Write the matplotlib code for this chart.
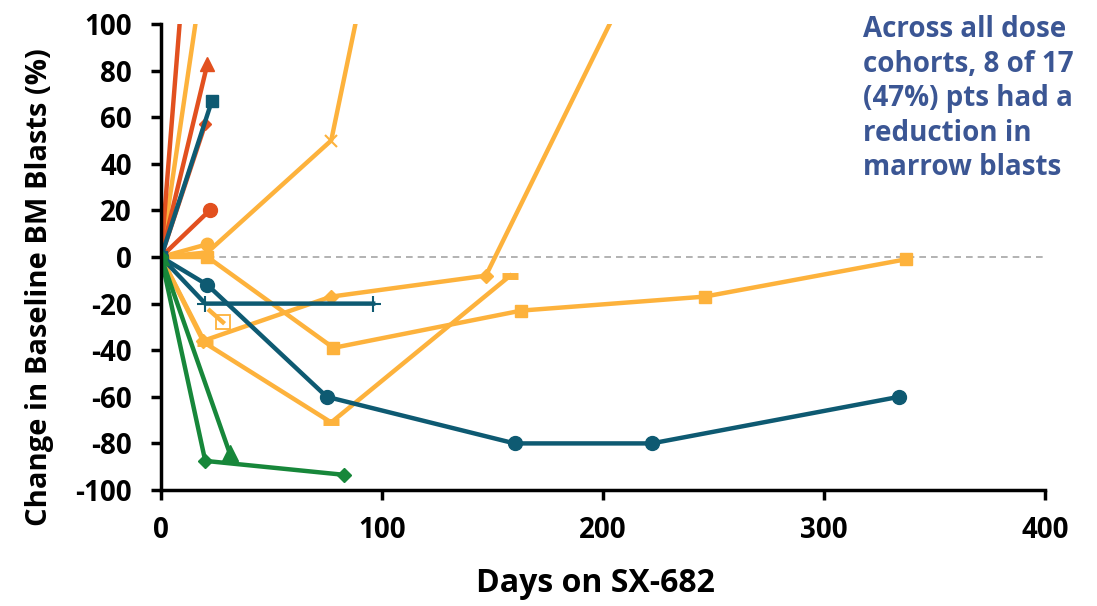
import matplotlib.pyplot as plt
import numpy as np

plt.rcParams['font.family'] = ['Open Sans', 'DejaVu Sans']
plt.rcParams['font.weight'] = 'bold'
plt.rcParams['axes.unicode_minus'] = False

# ── Colours ───────────────────────────────────────────────────────────────────
RED = '#E2501F'
YEL = '#FDB23C'
TEAL = '#0E5A72'
GREEN = '#17873A'

# ── Data (days on SX-682, % change in BM blasts) ──────────────────────────────
red_line_days = [0, 21]
red_line_vals = [0, 250]
red_tri_days = [0, 21]
red_tri_vals = [0, 83]
red_dia_days = [0, 20]
red_dia_vals = [0, 57]
red_circ_days = [0, 22]
red_circ_vals = [0, 20]

yel_line_days = [0, 21]
yel_line_vals = [0, 135]
yel_circ_days = [0, 21]
yel_circ_vals = [0, 5.5]
yel_x_days = [0, 21, 77, 100]
yel_x_vals = [0, 2, 50, 155]
yel_sq_days = [0, 21, 78, 163, 246, 337]
yel_sq_vals = [0, 0, -39, -23, -17, -1]
yel_dia_days = [0, 19, 77, 147, 230]
yel_dia_vals = [0, -36, -17, -8, 152]
yel_dash_days = [0, 20, 77, 158]
yel_dash_vals = [0, -37, -71, -8]
yel_osq_days = [22, 28]
yel_osq_vals = [-23, -28]

teal_sq_days = [0, 23]
teal_sq_vals = [0, 67]
teal_circ_days = [0, 21, 75, 160, 222, 334]
teal_circ_vals = [0, -12, -60, -80, -80, -60]
teal_plus_days = [0, 20, 96]
teal_plus_vals = [0, -20, -20]

green_dia_days = [0, 20, 83]
green_dia_vals = [0, -87.5, -93.5]
green_tri_days = [0, 31]
green_tri_vals = [0, -84]

note = 'Across all dose\ncohorts, 8 of 17\n(47%) pts had a\nreduction in\nmarrow blasts'

# ── Plot ──────────────────────────────────────────────────────────────────────
fig = plt.figure(figsize=(10.97, 6.06), dpi=100)
ax = fig.add_axes([0.1468, 0.1914, 0.8058, 0.769])

ax.axhline(0, color='#A6A6A6', lw=1.2, ls=(0, (4, 3)), zorder=1)

LW = 3.2
ax.plot(yel_line_days, yel_line_vals, color=YEL, lw=LW)
ax.plot(yel_x_days, yel_x_vals, color=YEL, lw=LW, marker='x', ms=9, mew=1.5)
ax.plot(yel_sq_days, yel_sq_vals, color=YEL, lw=LW, marker='s', ms=9)
ax.plot(yel_dia_days, yel_dia_vals, color=YEL, lw=LW, marker='D', ms=7)
ax.plot(yel_dash_days, yel_dash_vals, color=YEL, lw=LW, marker='_', ms=12, mew=5)
ax.plot(yel_circ_days, yel_circ_vals, color=YEL, lw=LW, marker='o', ms=9)
ax.plot(yel_osq_days, yel_osq_vals, color=YEL, lw=LW, marker='s', ms=10,
        mfc='none', mew=1.3, markevery=[1])
ax.plot([0], [0], color=YEL, marker='s', ms=10, mfc='none', mew=1.3)

ax.plot(red_line_days, red_line_vals, color=RED, lw=LW)
ax.plot(red_tri_days, red_tri_vals, color=RED, lw=LW, marker='^', ms=10)
ax.plot(red_dia_days, red_dia_vals, color=RED, lw=LW, marker='D', ms=6)
ax.plot(red_circ_days, red_circ_vals, color=RED, lw=LW, marker='o', ms=10)

ax.plot(teal_sq_days, teal_sq_vals, color=TEAL, lw=LW, marker='s', ms=8)
ax.plot(teal_circ_days, teal_circ_vals, color=TEAL, lw=LW, marker='o', ms=10)
ax.plot(teal_plus_days, teal_plus_vals, color=TEAL, lw=LW, marker='+', ms=12, mew=1.5)

ax.plot(green_dia_days, green_dia_vals, color=GREEN, lw=LW, marker='D', ms=7)
ax.plot(green_tri_days, green_tri_vals, color=GREEN, lw=LW, marker='^', ms=11)

ax.set_xlim(0, 400)
ax.set_ylim(-100, 100)
ax.set_xticks(np.arange(0, 401, 100))
ax.set_yticks(np.arange(-100, 101, 20))

for s in ['top', 'right']:
    ax.spines[s].set_visible(False)
for s in ['left', 'bottom']:
    ax.spines[s].set_linewidth(2.5)
ax.tick_params(width=2.5, length=7, labelsize=20)
ax.tick_params(axis='y', pad=14)
ax.tick_params(axis='x', pad=12)

ax.set_xlabel('Days on SX-682', fontsize=23, fontweight='bold')
ax.set_ylabel('Change in Baseline BM Blasts (%)', fontsize=21, fontweight='bold')
ax.xaxis.set_label_coords(0.4915, -0.165)
ax.yaxis.set_label_coords(-0.121, 0.436)

ax.text(0.787, 0.975, note, transform=fig.transFigure, ha='left', va='top',
        fontsize=20, fontweight='bold', color='#3B5694', linespacing=1.25)

fig.savefig('out.png', dpi=100)
